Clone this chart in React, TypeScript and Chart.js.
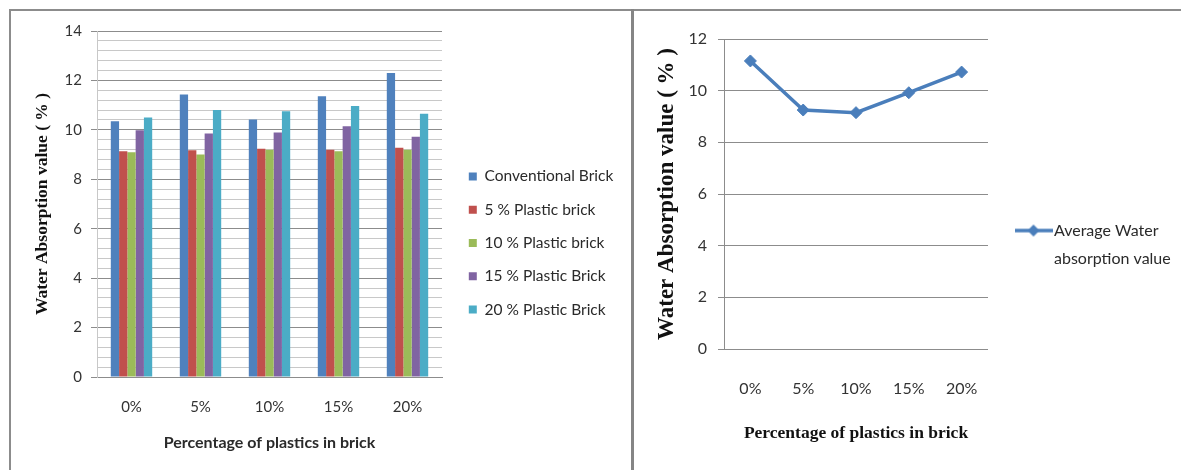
import React, { useEffect, useRef } from 'react';
import { Chart, registerables } from 'chart.js';

Chart.register(...registerables);

// ---------- data ----------
const categories = ['0%', '5%', '10%', '15%', '20%'];
const conventionalBrick = [10.35, 11.43, 10.42, 11.36, 12.3];
const plasticBrick5 = [9.13, 9.17, 9.24, 9.2, 9.28];
const plasticBrick10 = [9.09, 9.0, 9.2, 9.13, 9.2];
const plasticBrick15 = [9.98, 9.85, 9.89, 10.15, 9.72];
const plasticBrick20 = [10.5, 10.8, 10.75, 10.97, 10.65];
const averageWaterAbsorption = [11.15, 9.25, 9.15, 9.92, 10.72];

const seriesNames = [
  'Conventional Brick',
  '5 % Plastic brick',
  '10 % Plastic brick',
  '15 % Plastic Brick',
  '20 % Plastic Brick',
];
const seriesValues = [conventionalBrick, plasticBrick5, plasticBrick10, plasticBrick15, plasticBrick20];
const seriesColors = ['#4F81BD', '#C0504D', '#9BBB59', '#8064A2', '#4BACC6'];
const lineColor = '#4A7EBB';

const leftMajorTicks = [0, 2, 4, 6, 8, 10, 12, 14];
const leftMinorPerMajor = 5;
const rightTicks = [0, 2, 4, 6, 8, 10, 12];

const yTitle = 'Water Absorption value ( % )';
const xTitle = 'Percentage of plastics in brick';
const lineLegend = ['Average Water', 'absorption value'];

// ---------- styling ----------
const SANS = 'Lato, "Open Sans", sans-serif';
const SERIF = '"Liberation Serif", "Times New Roman", serif';
const TEXT = '#2a2a2a';
const MAJOR = '#8c8c8c';
const MINOR = '#c8c8c8';

function measure(font: string, text: string): number {
  const c = document.createElement('canvas').getContext('2d');
  if (!c) return 0;
  c.font = font;
  return c.measureText(text).width;
}

function buildMinorTicks(): number[] {
  const out: number[] = [];
  for (let i = 0; i < leftMajorTicks.length - 1; i++) {
    const a = leftMajorTicks[i];
    const b = leftMajorTicks[i + 1];
    for (let k = 0; k < leftMinorPerMajor; k++) {
      out.push(Math.round((a + ((b - a) * k) / leftMinorPerMajor) * 1000) / 1000);
    }
  }
  out.push(leftMajorTicks[leftMajorTicks.length - 1]);
  return out;
}
const isMajor = (v: number) => leftMajorTicks.some((m) => Math.abs(m - v) < 1e-6);

const L_W = 618;
const L_H = 443;
const R_W = 570; // extends under the clipped right edge of the page
const R_H = 451;

function BarPanel() {
  const ref = useRef<HTMLCanvasElement | null>(null);
  useEffect(() => {
    if (!ref.current) return;
    const legendFontSize = 15.5;
    const legPad = 17.8;
    const maxText = Math.max(...seriesNames.map((n) => measure(`${legendFontSize}px ${SANS}`, n)));
    // plot right edge at 430, gap 9, legend = pad + box + fs/2 + text + 10
    const padR = Math.max(0, L_W - (430 + 9 + legPad + 8 + legendFontSize / 2 + 10) - maxText);
    const minorTicks = buildMinorTicks();
    const chart = new Chart(ref.current, {
      type: 'bar',
      data: {
        labels: categories,
        datasets: seriesNames.map((name, i) => ({
          label: name,
          data: seriesValues[i],
          backgroundColor: seriesColors[i],
          borderWidth: 0,
          categoryPercentage: 0.6,
          barPercentage: 1.0,
        })),
      },
      options: {
        animation: false,
        responsive: false,
        maintainAspectRatio: false,
        layout: { padding: { top: 19, right: padR, bottom: 0, left: 0 } },
        plugins: {
          legend: {
            position: 'right',
            maxWidth: 400,
            labels: {
              boxWidth: 8,
              boxHeight: 8,
              padding: legPad,
              color: TEXT,
              font: { family: SANS, size: legendFontSize },
            },
          },
          tooltip: { enabled: false },
        },
        scales: {
          x: {
            grid: { display: false, drawTicks: false },
            border: { display: true, color: MAJOR },
            ticks: { padding: 21, color: '#333', font: { family: SANS, size: 15 } },
            title: {
              display: true,
              text: xTitle,
              color: TEXT,
              font: { family: SANS, size: 16, weight: 'bold' },
              padding: { top: 0, bottom: 2.4 },
            },
            afterFit: (s: any) => {
              s.height = L_H - 365;
            },
          },
          y: {
            min: 0,
            max: 14,
            afterBuildTicks: (s: any) => {
              s.ticks = minorTicks.map((v) => ({ value: v }));
            },
            ticks: {
              autoSkip: false,
              padding: 9,
              color: '#333',
              font: { family: SANS, size: 15 },
              callback: (v: any) => (isMajor(Number(v)) ? String(Math.round(Number(v))) : ''),
            },
            grid: {
              color: (ctx: any) => (isMajor(ctx.tick?.value ?? 0) ? MAJOR : MINOR),
              tickColor: (ctx: any) => (isMajor(ctx.tick?.value ?? 0) ? MAJOR : 'rgba(0,0,0,0)'),
              tickLength: 6,
            },
            border: { color: MINOR },
            title: {
              display: true,
              text: yTitle,
              color: '#111',
              font: { family: SERIF, size: 17.5, weight: 'bold' },
              padding: { top: 19.5, bottom: 0 },
            },
            afterFit: (s: any) => {
              s.width = 85;
            },
          },
          gap: {
            type: 'linear',
            position: 'right',
            display: true,
            grid: { display: false, drawTicks: false },
            border: { display: false },
            ticks: { display: false },
            afterFit: (s: any) => {
              s.width = 9;
            },
          },
        },
      } as any,
    });
    return () => chart.destroy();
  }, []);
  return <canvas ref={ref} width={L_W} height={L_H} style={{ display: 'block', width: L_W, height: L_H }} />;
}

function LinePanel() {
  const ref = useRef<HTMLCanvasElement | null>(null);
  useEffect(() => {
    if (!ref.current) return;
    const fs = 16;
    const legPad = 10;
    const boxW = 25;
    const maxText = Math.max(...lineLegend.map((t) => measure(`${fs}px ${SANS}`, t)));
    // plot right edge at 353, gap 23
    const padR = Math.max(0, R_W - (353 + 23 + legPad + boxW + fs / 2 + 10) - maxText);

    const icon = document.createElement('canvas');
    icon.width = 38;
    icon.height = 14;
    const ic = icon.getContext('2d');
    if (ic) {
      ic.strokeStyle = lineColor;
      ic.lineWidth = 3.5;
      ic.beginPath();
      ic.moveTo(0, 7);
      ic.lineTo(38, 7);
      ic.stroke();
      ic.fillStyle = lineColor;
      ic.beginPath();
      ic.moveTo(19, 1);
      ic.lineTo(25, 7);
      ic.lineTo(19, 13);
      ic.lineTo(13, 7);
      ic.closePath();
      ic.fill();
    }

    const chart = new Chart(ref.current, {
      type: 'line',
      data: {
        labels: categories,
        datasets: [
          {
            label: lineLegend.join(' '),
            data: averageWaterAbsorption,
            borderColor: lineColor,
            backgroundColor: lineColor,
            borderWidth: 3.5,
            pointStyle: 'rectRot',
            pointRadius: 6,
            pointBorderWidth: 1,
            pointBackgroundColor: lineColor,
            pointBorderColor: lineColor,
            tension: 0,
          },
        ],
      },
      options: {
        animation: false,
        responsive: false,
        maintainAspectRatio: false,
        layout: { padding: { top: 27, right: padR, bottom: 0, left: 0 } },
        plugins: {
          legend: {
            position: 'right',
            maxWidth: 400,
            labels: {
              usePointStyle: true,
              pointStyleWidth: boxW,
              padding: legPad,
              color: TEXT,
              font: { family: SANS, size: fs, lineHeight: 1.78 },
              generateLabels: () => [
                {
                  text: lineLegend as any,
                  fillStyle: lineColor,
                  strokeStyle: lineColor,
                  lineWidth: 0,
                  pointStyle: icon as any,
                  hidden: false,
                  datasetIndex: 0,
                  fontColor: TEXT,
                },
              ],
            },
          },
          tooltip: { enabled: false },
        },
        scales: {
          x: {
            offset: true,
            grid: { display: false, drawTicks: false },
            border: { display: false },
            ticks: { padding: 30, color: '#333', font: { family: SANS, size: 16 } },
            title: {
              display: true,
              text: xTitle,
              color: '#111',
              font: { family: SERIF, size: 17.5, weight: 'bold' },
              padding: { top: 0, bottom: 19.5 },
            },
            afterFit: (s: any) => {
              s.height = R_H - 337;
            },
          },
          y: {
            min: 0,
            max: 12,
            afterBuildTicks: (s: any) => {
              s.ticks = rightTicks.map((v) => ({ value: v }));
            },
            ticks: { padding: 11, color: '#333', font: { family: SANS, size: 16 } },
            grid: { color: MAJOR, tickColor: MAJOR, tickLength: 6 },
            border: { color: MAJOR },
            title: {
              display: true,
              text: yTitle,
              color: '#111',
              font: { family: SERIF, size: 23, weight: 'bold' },
              padding: { top: 18, bottom: 0 },
            },
            afterFit: (s: any) => {
              s.width = 89;
            },
          },
          gap: {
            type: 'linear',
            position: 'right',
            display: true,
            grid: { display: false, drawTicks: false },
            border: { display: false },
            ticks: { display: false },
            afterFit: (s: any) => {
              s.width = 23;
            },
          },
        },
      } as any,
    });
    return () => chart.destroy();
  }, []);
  return <canvas ref={ref} width={R_W} height={R_H} style={{ display: 'block', width: R_W, height: R_H }} />;
}

export default function App() {
  const line = '#8c8c8c';
  return (
    <div style={{ position: 'absolute', left: 0, top: 0, width: 1181, height: 470, background: '#fff', overflow: 'hidden' }}>
      <div style={{ position: 'absolute', left: 9, top: 9, width: 1172, height: 2, background: line }} />
      <div style={{ position: 'absolute', left: 9, top: 9, width: 2, height: 461, background: line }} />
      <div style={{ position: 'absolute', left: 631, top: 9, width: 3, height: 461, background: '#858585' }} />
      <div style={{ position: 'absolute', left: 12, top: 12 }}>
        <BarPanel />
      </div>
      <div style={{ position: 'absolute', left: 635, top: 12 }}>
        <LinePanel />
      </div>
    </div>
  );
}
